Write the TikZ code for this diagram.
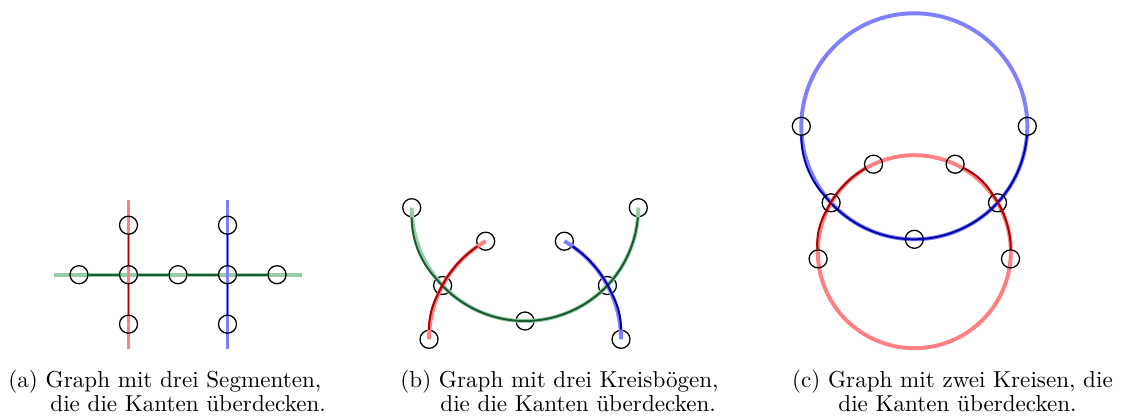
\documentclass[tikz,border=0pt]{standalone}
\definecolor{lgreen}{RGB}{150,204,168}
\definecolor{dgreen}{RGB}{25,90,50}
\definecolor{lred}{RGB}{255,128,128}
\definecolor{dred}{RGB}{170,0,0}
\definecolor{lblue}{RGB}{128,128,255}
\definecolor{dblue}{RGB}{0,0,170}
\begin{document}
\begin{tikzpicture}[x=0.4329pt,y=0.4329pt,
  cover/.style={line width=1.7pt},
  edge/.style={line width=0.85pt},
  arcedge/.style={edge,looseness=0.88},
  vtx/.style={circle,draw=black,line width=0.55pt,minimum size=7.8pt,inner sep=0pt},
  captext/.style={anchor=base west,inner sep=0pt,font=\fontsize{10}{12}\selectfont}]
\useasboundingbox (0,0) rectangle (1128,419);
% ---------- (a) ----------
\draw[cover,lgreen] (54.25,144.3) -- (301.75,144.3);
\draw[cover,lred] (128.5,218.55) -- (128.5,70.05);
\draw[cover,lblue] (227.5,218.55) -- (227.5,70.05);
\node[vtx] (a1) at (79,144.3) {};
\node[vtx] (a2) at (128.5,144.3) {};
\node[vtx] (a3) at (178,144.3) {};
\node[vtx] (a4) at (227.5,144.3) {};
\node[vtx] (a5) at (277,144.3) {};
\node[vtx] (a6) at (128.5,193.8) {};
\node[vtx] (a7) at (128.5,94.8) {};
\node[vtx] (a8) at (227.5,193.8) {};
\node[vtx] (a9) at (227.5,94.8) {};
\draw[edge,dgreen] (a1) -- (a2) -- (a3) -- (a4) -- (a5);
\draw[edge,dred] (a6) -- (a2) -- (a7);
\draw[edge,dblue] (a8) -- (a4) -- (a9);
% ---------- (b) ----------
\node[vtx] (b1) at (411.7,211.3) {};
\node[vtx] (b3) at (525,98) {};
\node[vtx] (b5) at (638.3,211.3) {};
\node[vtx] (bx1) at (442.6,133.5) {};
\node[vtx] (bx2) at (607.4,133.5) {};
\node[vtx] (br1) at (429,79.7) {};
\node[vtx] (br2) at (485.65,177.8) {};
\node[vtx] (bb1) at (621,79.7) {};
\node[vtx] (bb2) at (564.35,177.8) {};
\draw[cover,lgreen] (b1.center) arc[start angle=180,end angle=360,radius=113.3];
\draw[cover,lred] (br1.center) arc[start angle=180,end angle=120,radius=113.3];
\draw[cover,lblue] (bb1.center) arc[start angle=0,end angle=60,radius=113.3];
\draw[arcedge,dgreen] (b1) to[bend right=21.7] (bx1) to[bend right=23.3] (b3)
  to[bend right=23.3] (bx2) to[bend right=21.7] (b5);
\draw[arcedge,dred] (br1) to[bend left=14.2] (bx1) to[bend left=15.8] (br2);
\draw[arcedge,dblue] (bb1) to[bend right=14.2] (bx2) to[bend right=15.8] (bb2);
% ---------- (c) ----------
\draw[cover,lblue] (914.3,292.7) circle[radius=113];
\draw[cover,lred] (914.3,167.3) circle[radius=96.5];
\node[vtx] (cl) at (801.3,292.7) {};
\node[vtx] (cr) at (1027.3,292.7) {};
\node[vtx] (cb) at (914.3,179.7) {};
\node[vtx] (cx1) at (831.1,216.2) {};
\node[vtx] (cx2) at (997.5,216.2) {};
\node[vtx] (cu1) at (873.5,254.8) {};
\node[vtx] (cu2) at (955.1,254.8) {};
\node[vtx] (cs1) at (818.1,160.1) {};
\node[vtx] (cs2) at (1010.5,160.1) {};
\draw[arcedge,dblue] (cl) to[bend right=21.3] (cx1) to[bend right=23.7] (cb)
  to[bend right=23.7] (cx2) to[bend right=21.3] (cr);
\draw[arcedge,dred] (cs1) to[bend left=17.4] (cx1) to[bend left=17.3] (cu1);
\draw[arcedge,dred] (cu2) to[bend left=17.3] (cx2) to[bend left=17.4] (cs2);
% ---------- captions ----------
\node[captext] (ca1) at (8,31.5) {(a) Graph mit drei Segmenten,};
\node[captext] (ca2) at (50,7.5) {die die Kanten überdecken.};
\node[captext] (cb1) at (400,31.5) {(b) Graph mit drei Kreisbögen,};
\node[captext] (cb2) at (440,7.5) {die die Kanten überdecken.};
\node[captext] (cc1) at (791.7,31.5) {(c) Graph mit zwei Kreisen, die};
\node[captext] (cc2) at (838,7.5) {die Kanten überdecken.};
\end{tikzpicture}
\end{document}
